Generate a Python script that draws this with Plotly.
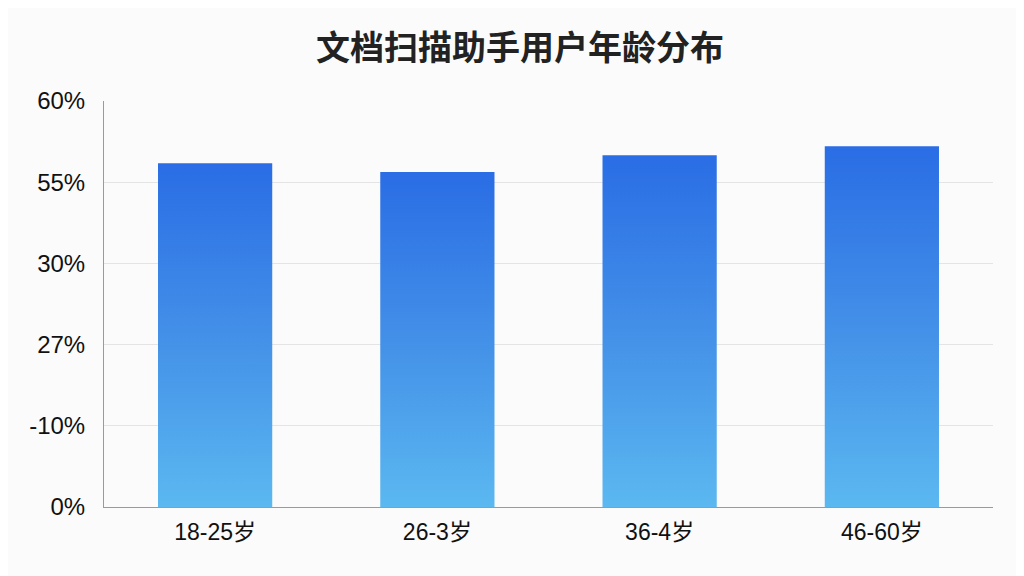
import plotly.graph_objects as go

# 年龄段 & 占比
age_groups = ["18-25岁", "26-3岁", "36-4岁", "46-60岁"]
user_share = [50.8, 49.5, 52.0, 53.3]

# 参考图里的刻度文字（原样保留）
y_tickvals = [0, 12, 24, 36, 48, 60]
y_ticktext = ["0%", "-10%", "27%", "30%", "55%", "60%"]

bar_half = 0.257
grad = [[0, "#5bb8f0"], [0.5, "#4390e8"], [1, "#2a6de5"]]

fig = go.Figure()

for i, (name, v) in enumerate(zip(age_groups, user_share)):
    xs = [i - bar_half, i + bar_half, i + bar_half, i - bar_half, i - bar_half]
    ys = [0, 0, v, v, 0]
    fig.add_trace(go.Scatter(
        x=xs, y=ys,
        mode="lines",
        line=dict(width=0),
        fill="toself",
        fillgradient=dict(type="vertical", colorscale=grad, start=0, stop=v),
        name=name,
        hovertemplate=f"{name}: {v}%<extra></extra>",
    ))

fig.update_layout(
    width=1024, height=576,
    paper_bgcolor="#fbfbfb",
    plot_bgcolor="#fbfbfb",
    showlegend=False,
    margin=dict(l=96, r=39, t=93, b=77),
    title=dict(
        text="<b>文档扫描助手用户年龄分布</b>",
        x=0.5, xanchor="center",
        y=0.93, yanchor="middle",
        font=dict(family="Noto Sans CJK SC", size=34, color="#222222"),
    ),
    font=dict(family="Liberation Sans, Arial", color="#222222"),
)

fig.update_xaxes(
    range=[-0.5, 3.5],
    tickvals=list(range(len(age_groups))),
    ticktext=age_groups,
    tickfont=dict(family="Liberation Sans, Noto Sans CJK SC", size=23, color="#111111"),
    showgrid=False,
    zeroline=False,
    showline=True, linecolor="#9a9a9a", linewidth=1,
    ticks="", ticklabelstandoff=4,
)

fig.update_yaxes(
    range=[0, 60],
    tickvals=y_tickvals,
    ticktext=y_ticktext,
    tickfont=dict(family="Liberation Sans, Arial", size=24, color="#111111"),
    showgrid=True, gridcolor="#e4e4e4", gridwidth=1,
    zeroline=False,
    showline=True, linecolor="#9a9a9a", linewidth=1,
    ticks="", ticklabelstandoff=13,
)

fig.write_html("out.html")
